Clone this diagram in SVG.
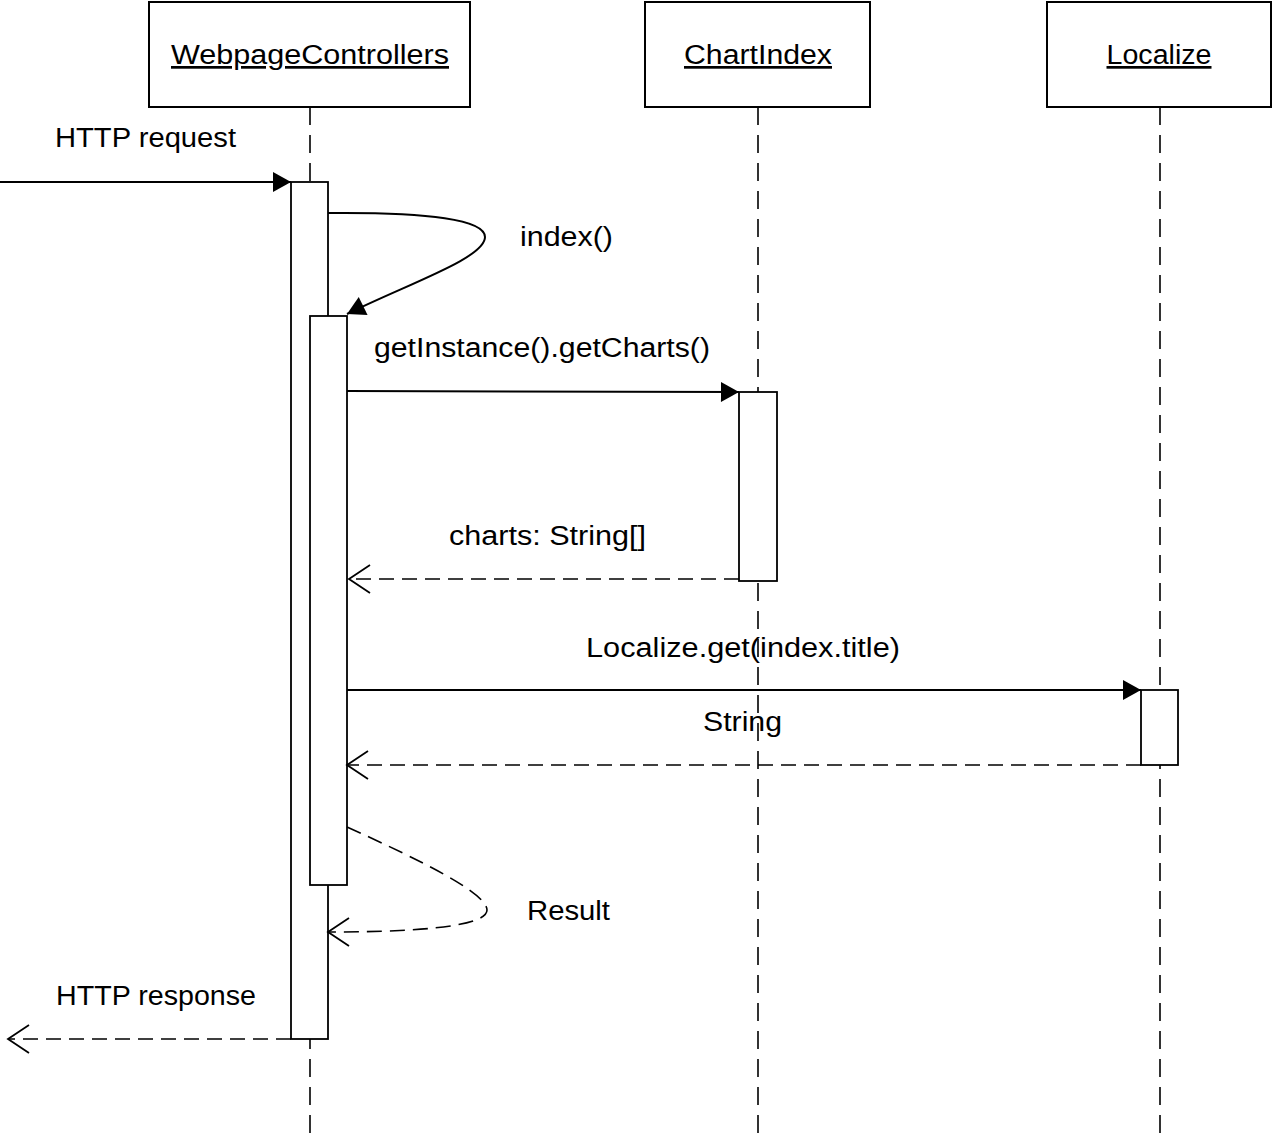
<svg xmlns="http://www.w3.org/2000/svg" width="1273" height="1135" viewBox="0 0 1273 1135">
<style>
.box{fill:#fff;stroke:#000;stroke-width:2}
.act{fill:#fff;stroke:#000;stroke-width:1.8}
.life{stroke:#000;stroke-width:1.6;stroke-dasharray:18,10;fill:none}
.msg{stroke:#000;stroke-width:2;fill:none}
.ret{stroke:#000;stroke-width:1.6;stroke-dasharray:15,8;fill:none}
text{font-family:"Liberation Sans",Arial,sans-serif;font-size:27px;fill:#000}
.u{text-decoration:underline}
</style>
<defs>
<marker id="fill" markerUnits="userSpaceOnUse" markerWidth="20" markerHeight="22" refX="18" refY="10" orient="auto" overflow="visible">
<path d="M0,0 L18,10 L0,20 z" fill="#000"/>
</marker>
<marker id="open" markerUnits="userSpaceOnUse" markerWidth="24" markerHeight="30" refX="21" refY="14" orient="auto" overflow="visible">
<path d="M0,0 L21,14 L0,28" fill="none" stroke="#000" stroke-width="1.8"/>
</marker>
</defs>
<g id="lifelines">
<line class="life" x1="310" y1="107" x2="310" y2="1135"/>
<line class="life" x1="758" y1="107" x2="758" y2="1135"/>
<line class="life" x1="1160" y1="107" x2="1160" y2="1135"/>
</g>
<g id="webpagecontrollers">
<rect class="box" x="149" y="2" width="321" height="105"/>
<text class="u" x="310" y="64" text-anchor="middle" textLength="278" lengthAdjust="spacingAndGlyphs">WebpageControllers</text>
</g>
<g id="chartindex">
<rect class="box" x="645" y="2" width="225" height="105"/>
<text class="u" x="758" y="64" text-anchor="middle" textLength="148" lengthAdjust="spacingAndGlyphs">ChartIndex</text>
</g>
<g id="localize">
<rect class="box" x="1047" y="2" width="224" height="105"/>
<text class="u" x="1159" y="64" text-anchor="middle" textLength="105" lengthAdjust="spacingAndGlyphs">Localize</text>
</g>
<g id="activations">
<rect class="act" x="291" y="182" width="37" height="857"/>
<rect class="act" x="310" y="316" width="37" height="569"/>
<rect class="act" x="739" y="392" width="38" height="189"/>
<rect class="act" x="1141" y="690" width="37" height="75"/>
</g>
<g id="connectors">
<line class="msg" x1="0" y1="182" x2="291" y2="182" marker-end="url(#fill)"/>
<path class="msg" d="M328,213 C430,212 485,220 485,237 C485,258 410,283 347,314" marker-end="url(#fill)"/>
<line class="msg" x1="347" y1="391" x2="739" y2="392" marker-end="url(#fill)"/>
<line class="ret" x1="739" y1="579" x2="349" y2="579" marker-end="url(#open)"/>
<line class="msg" x1="347" y1="690" x2="1141" y2="690" marker-end="url(#fill)"/>
<line class="ret" x1="1141" y1="765" x2="347" y2="765" marker-end="url(#open)"/>
<path class="ret" d="M347,827 C420,860 487,893 487,910 C487,925 430,932 328,932" marker-end="url(#open)"/>
<line class="ret" x1="291" y1="1039" x2="8" y2="1039" marker-end="url(#open)"/>
</g>
<g id="labels">
<text x="55" y="147" textLength="181" lengthAdjust="spacingAndGlyphs">HTTP request</text>
<text x="520" y="246" textLength="93" lengthAdjust="spacingAndGlyphs">index()</text>
<text x="374" y="357" textLength="336" lengthAdjust="spacingAndGlyphs">getInstance().getCharts()</text>
<text x="449" y="545" textLength="197" lengthAdjust="spacingAndGlyphs">charts: String[]</text>
<text x="586" y="657" textLength="314" lengthAdjust="spacingAndGlyphs">Localize.get(index.title)</text>
<text x="703" y="731" textLength="79" lengthAdjust="spacingAndGlyphs">String</text>
<text x="527" y="920" textLength="83" lengthAdjust="spacingAndGlyphs">Result</text>
<text x="56" y="1005" textLength="200" lengthAdjust="spacingAndGlyphs">HTTP response</text>
</g>
</svg>
